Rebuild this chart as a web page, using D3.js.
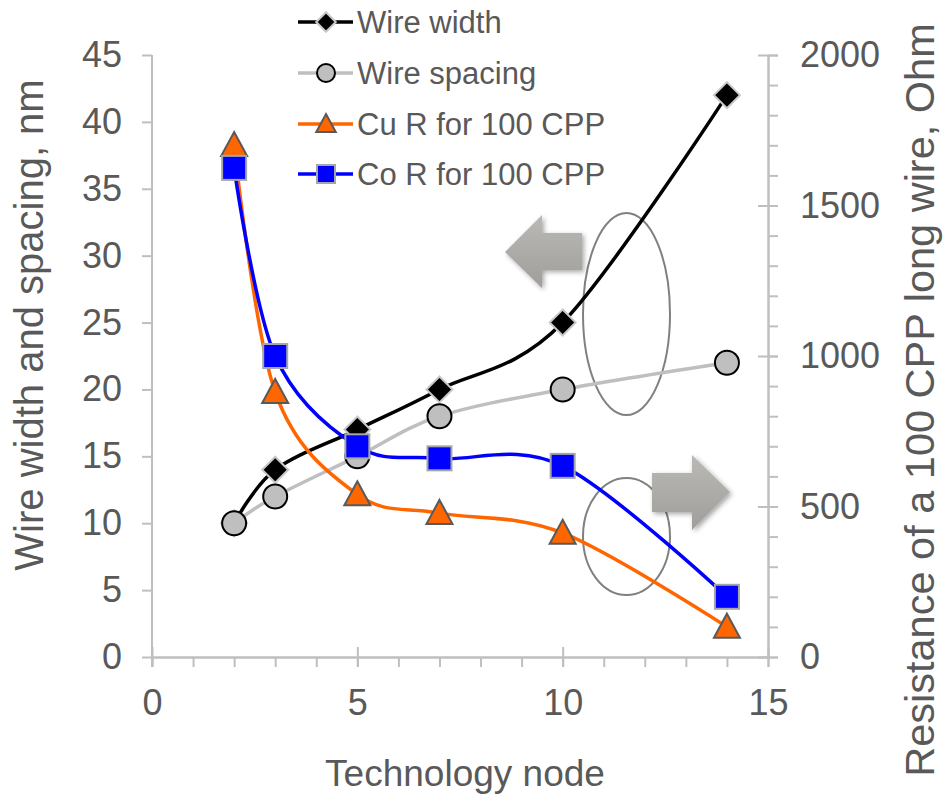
<!DOCTYPE html>
<html>
<head>
<meta charset="utf-8">
<script src="https://cdn.jsdelivr.net/npm/d3@7"></script>
<style>
  html, body { margin: 0; padding: 0; background: #fff; }
  svg { display: block; font-family: "Liberation Sans", Arial, sans-serif; }
</style>
</head>
<body>
<svg id="chart" width="950" height="800"></svg>
<script>
// ---------- data ----------
const nodes = [2, 3, 5, 7, 10, 14];
const wireWidth = [10, 14, 17, 20, 25, 42];
const wireSpacing = [10, 12, 15, 18, 20, 22];
const cuR = [1700, 880, 540, 478, 412, 100];
const coR = [1625, 1000, 700, 660, 635, 200];

const xTicks = [0, 5, 10, 15];
const leftTicks = [0, 5, 10, 15, 20, 25, 30, 35, 40, 45];
const rightTicks = [0, 500, 1000, 1500, 2000];
const legendLabels = ["Wire width", "Wire spacing", "Cu R for 100 CPP", "Co R for 100 CPP"];
const xTitle = "Technology node";
const leftTitle = "Wire width and spacing, nm";
const rightTitle = "Resistance of a 100 CPP long wire, Ohm";

// ---------- setup ----------
const svg = d3.select("#chart");
const textColor = "#595959";
const axisColor = "#bfbfbf";

const x = d3.scaleLinear().domain([0, 15]).range([152, 768]);
const yL = d3.scaleLinear().domain([0, 45]).range([657, 55]);
const yR = d3.scaleLinear().domain([0, 2000]).range([657, 55]);

const defs = svg.append("defs");
const grad = defs.append("linearGradient").attr("id", "arrowGrad")
  .attr("x1", 0).attr("y1", 0).attr("x2", 0).attr("y2", 1);
grad.append("stop").attr("offset", "0%").attr("stop-color", "#bab9b5");
grad.append("stop").attr("offset", "100%").attr("stop-color", "#9f9e9a");
const filt = defs.append("filter").attr("id", "shadow")
  .attr("x", "-30%").attr("y", "-30%").attr("width", "160%").attr("height", "160%");
filt.append("feDropShadow").attr("dx", 2).attr("dy", 2).attr("stdDeviation", 2.5)
  .attr("flood-color", "#000").attr("flood-opacity", 0.35);

// ---------- axes ----------
function styleAxis(g) {
  g.select(".domain").attr("stroke", axisColor).attr("stroke-width", 2);
  g.selectAll(".tick line").attr("stroke", axisColor).attr("stroke-width", 2);
  g.selectAll(".tick text").attr("fill", textColor).attr("font-size", 36)
    .attr("font-family", "Liberation Sans, Arial, sans-serif");
}

// x minor ticks
svg.append("g").attr("transform", `translate(0,${yL(0)})`)
  .call(d3.axisBottom(x).tickValues(d3.range(0, 16)).tickSize(10).tickSizeOuter(0).tickFormat(""))
  .call(styleAxis);
// x major
const xg = svg.append("g").attr("transform", `translate(0,${yL(0)})`)
  .call(d3.axisBottom(x).tickValues(xTicks).tickSize(10).tickSizeOuter(0).tickPadding(22).tickFormat(d3.format("d")))
  .call(styleAxis);
xg.selectAll(".tick line").attr("y1", -10).attr("y2", 10);

// left axis
const lg = svg.append("g").attr("transform", `translate(${x(0)},0)`)
  .call(d3.axisLeft(yL).tickValues(leftTicks).tickSize(10).tickSizeOuter(0).tickPadding(20).tickFormat(d3.format("d")))
  .call(styleAxis);
lg.select(".domain").attr("d", `M0,${yL(45)}V${yL(0) + 10}`);

// right axis minor
svg.append("g").attr("transform", `translate(${x(15)},0)`)
  .call(d3.axisRight(yR).tickValues(d3.range(0, 2001, 100)).tickSize(10).tickSizeOuter(0).tickFormat(""))
  .call(styleAxis);
const rg = svg.append("g").attr("transform", `translate(${x(15)},0)`)
  .call(d3.axisRight(yR).tickValues(rightTicks).tickSize(10).tickSizeOuter(0).tickPadding(22).tickFormat(d3.format("d")))
  .call(styleAxis);
rg.selectAll(".tick line").attr("x1", -10).attr("x2", 10);

// axis titles
svg.append("text").attr("x", 465).attr("y", 786).attr("text-anchor", "middle")
  .attr("font-size", 37).attr("fill", textColor).text(xTitle);
svg.append("text").attr("transform", "translate(43,325) rotate(-90)").attr("text-anchor", "middle")
  .attr("font-size", 40).attr("fill", textColor).text(leftTitle);
svg.append("text").attr("transform", "translate(934,400) rotate(-90)").attr("text-anchor", "middle")
  .attr("font-size", 41.5).attr("fill", textColor).text(rightTitle);

// ---------- annotations (ellipses and arrows) ----------
const ann = svg.append("g");
ann.append("ellipse").attr("cx", 626.5).attr("cy", 314).attr("rx", 43.5).attr("ry", 101)
  .attr("fill", "none").attr("stroke", "#808080").attr("stroke-width", 2);
ann.append("ellipse").attr("cx", 626.5).attr("cy", 536.5).attr("rx", 43.5).attr("ry", 58.5)
  .attr("fill", "none").attr("stroke", "#808080").attr("stroke-width", 2);
// left arrow
ann.append("path")
  .attr("d", "M505,252 L542,215 L542,233 L582,233 L582,270 L542,270 L542,288 Z")
  .attr("fill", "url(#arrowGrad)").attr("filter", "url(#shadow)");
// right arrow
ann.append("path")
  .attr("d", "M730,492 L692,455 L692,473 L652,473 L652,512 L692,512 L692,530 Z")
  .attr("fill", "url(#arrowGrad)").attr("filter", "url(#shadow)");

// ---------- series ----------
const curve = d3.curveCardinal.tension(0);
const series = [
  { name: legendLabels[0], vals: wireWidth, y: yL, color: "#000000", marker: "diamond" },
  { name: legendLabels[1], vals: wireSpacing, y: yL, color: "#bfbfbf", marker: "circle" },
  { name: legendLabels[2], vals: cuR, y: yR, color: "#ff6600", marker: "triangle" },
  { name: legendLabels[3], vals: coR, y: yR, color: "#0000ff", marker: "square" }
];

function drawMarker(g, type, cx, cy, scale) {
  const s = scale || 1;
  if (type === "diamond") {
    const r = 13 * s;
    g.append("path").attr("d", `M${cx},${cy - r}L${cx + r},${cy}L${cx},${cy + r}L${cx - r},${cy}Z`)
      .attr("fill", "#000").attr("stroke", "#c8c8c8").attr("stroke-width", 2);
  } else if (type === "circle") {
    g.append("circle").attr("cx", cx).attr("cy", cy).attr("r", 12 * s)
      .attr("fill", "#bfbfbf").attr("stroke", "#000").attr("stroke-width", 2);
  } else if (type === "triangle") {
    const w = 13 * s, h = 24 * s;
    g.append("path").attr("d", `M${cx},${cy - h * 0.55}L${cx + w},${cy + h * 0.45}L${cx - w},${cy + h * 0.45}Z`)
      .attr("fill", "#ff6600").attr("stroke", "#595959").attr("stroke-width", 2).attr("stroke-linejoin", "miter");
  } else if (type === "square") {
    const h = 12 * s;
    g.append("rect").attr("x", cx - h).attr("y", cy - h).attr("width", 2 * h).attr("height", 2 * h)
      .attr("fill", "#0000ff").attr("stroke", "#a6a6a6").attr("stroke-width", 2);
  }
}

series.forEach(s => {
  const g = svg.append("g");
  const pts = nodes.map((n, i) => [x(n), s.y(s.vals[i])]);
  g.append("path").attr("d", d3.line().curve(curve)(pts))
    .attr("fill", "none").attr("stroke", s.color).attr("stroke-width", 3.5);
  pts.forEach(p => drawMarker(g, s.marker, p[0], p[1], 1));
});

// ---------- legend ----------
const legY = [22, 73, 124, 174];
series.forEach((s, i) => {
  const g = svg.append("g");
  g.append("line").attr("x1", 298).attr("x2", 353).attr("y1", legY[i]).attr("y2", legY[i])
    .attr("stroke", s.color).attr("stroke-width", 3.5);
  drawMarker(g, s.marker, 326, legY[i], 0.75);
  g.append("text").attr("x", 357).attr("y", legY[i] + 11).attr("font-size", 31)
    .attr("fill", textColor).text(s.name);
});
</script>
</body>
</html>
